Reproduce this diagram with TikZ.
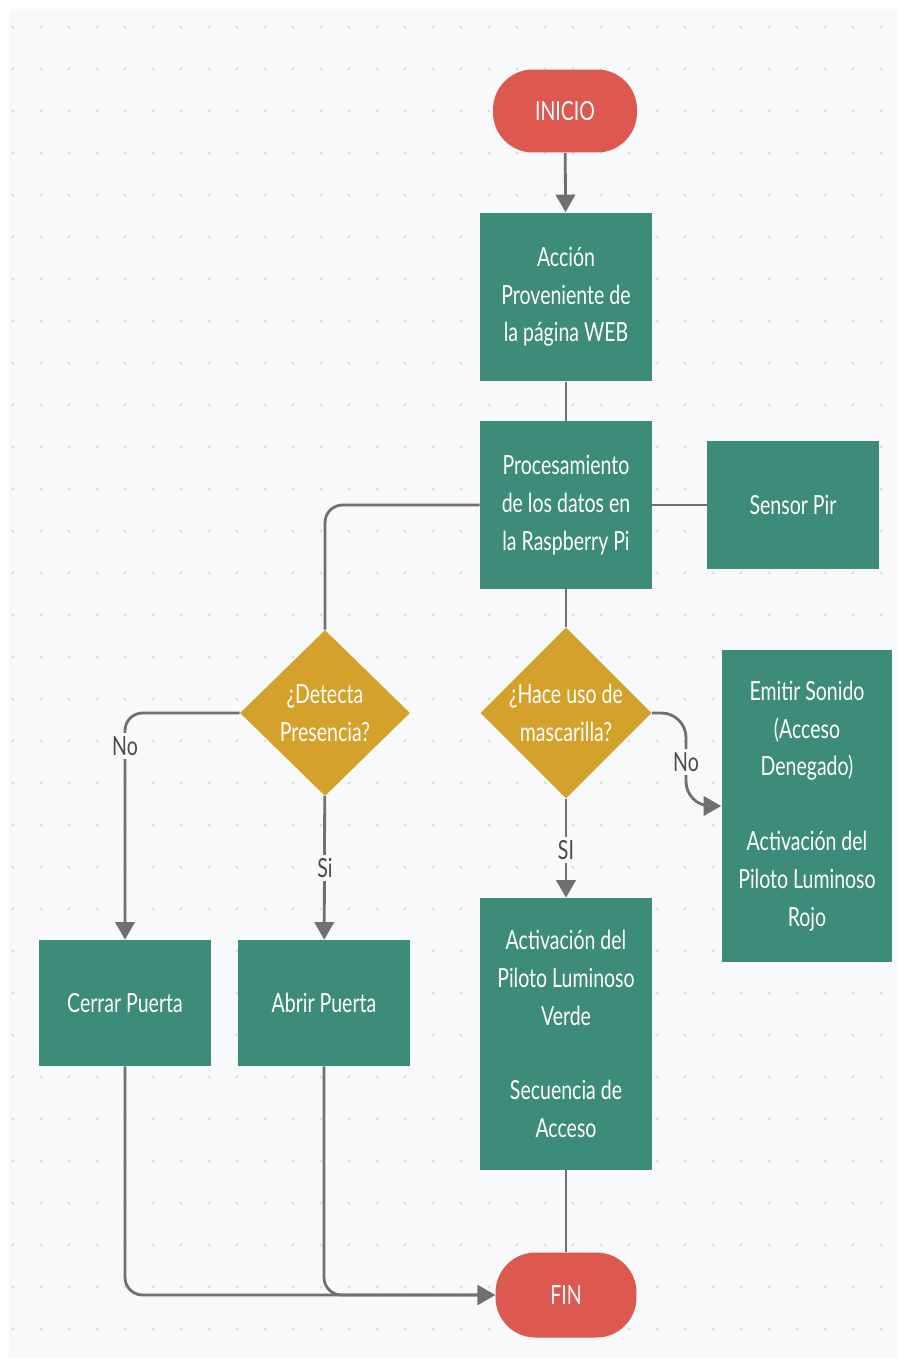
\documentclass[tikz,border=0pt]{standalone}
\usepackage{fontspec}
\setmainfont{Lato}[FakeStretch=0.74]
\usepackage{tikz}
\usetikzlibrary{arrows.meta, positioning, shapes.geometric}
\definecolor{boxteal}{HTML}{3D8B79}
\definecolor{startred}{HTML}{DD584E}
\definecolor{askgold}{HTML}{D4A12A}
\definecolor{linegray}{HTML}{707070}
\definecolor{labelgray}{HTML}{4A4A4A}
\definecolor{canvas}{HTML}{F8F9FB}
\definecolor{dotgray}{HTML}{DADDE2}

\begin{document}
\begin{tikzpicture}[
    x=0.02cm, y=-0.02cm,
    every node/.style={font=\fontsize{15}{21.5}\selectfont},
    stadium/.style={fill=startred, rounded corners=0.8cm, minimum width=2.88cm, minimum height=1.66cm, text=white},
    task/.style={fill=boxteal, minimum width=3.44cm, text=white, align=center},
    ask/.style={diamond, fill=askgold, minimum width=3.4cm, minimum height=3.32cm, inner sep=0pt, text=white, align=center},
    link/.style={draw=linegray, line width=1.6pt},
    flow/.style={link, -{Triangle[length=10pt, width=11pt]}},
    tag/.style={fill=canvas, text=labelgray, inner sep=2pt},
]
    % canvas
    \useasboundingbox (0,0) rectangle (904,1365);
    \fill[white] (0,0) rectangle (904,1365);
    \fill[canvas] (9,9) rectangle (898,1358);
    \foreach \x in {13,41,...,898} {
        \foreach \y in {27,69,...,1358} {
            \fill[dotgray] (\x,\y) circle (0.9pt);
        }
    }

    % Start / end
    \node[stadium] (inicio) at (565,111) {INICIO};
    \node[stadium, minimum width=2.82cm, minimum height=1.7cm] (fin) at (566,1295) {FIN};

    % Main column
    \node[task, minimum height=3.38cm] (web) at (566,297) {Acción\\Proveniente de\\la página WEB};
    \node[task, minimum height=3.36cm] (proc) at (566,505) {Procesamiento\\de los datos en\\la Raspberry Pi};
    \node[task, minimum height=2.56cm] (pir) at (793,505) {Sensor Pir};

    % Decisions
    \node[ask] (detect) at (325,713) {¿Detecta\\Presencia?};
    \node[ask] (mask) at (566,713) {¿Hace uso de\\mascarilla?};

    % Outcomes
    \node[task, minimum height=2.52cm] (cerrar) at (125,1003) {Cerrar Puerta};
    \node[task, minimum height=2.52cm] (abrir) at (324,1003) {Abrir Puerta};
    \node[task, minimum height=5.44cm] (verde) at (566,1034) {Activación del\\Piloto Luminoso\\Verde\\[21pt]Secuencia de\\Acceso};
    \node[task, minimum width=3.42cm, minimum height=6.26cm] (rojo) at (807,806) {Emitir Sonido\\(Acceso\\Denegado)\\[21pt]Activación del\\Piloto Luminoso\\Rojo};

    \coordinate (bend) at (686,806);

    % Connections
    \draw[flow] (inicio) -- (web);
    \draw[link] (web) -- (proc);
    \draw[link] (proc) -- (pir);
    \draw[link, rounded corners=10pt] (proc.west) -| (detect.north);
    \draw[link] (proc) -- (mask);

    \draw[flow, rounded corners=10pt] (detect.west) -| (cerrar.north);
    \draw[flow] (detect) -- (abrir);
    \draw[flow] (mask) -- (verde);
    \draw[flow, rounded corners=14pt] (mask.east) -| (bend) -- (rojo.west);

    \draw[link] (verde) -- (fin);
    \draw[flow, rounded corners=10pt] (cerrar.south) |- (fin.west);
    \draw[flow, rounded corners=10pt] (abrir.south) |- (fin.west);

    % Branch labels
    \node[tag] (noleft) at (125,746) {No};
    \node[tag] (sileft) at (325,868) {Si};
    \node[tag] (siright) at (566,850) {SI};
    \node[tag] (noright) at (686,762) {No};
\end{tikzpicture}
\end{document}
